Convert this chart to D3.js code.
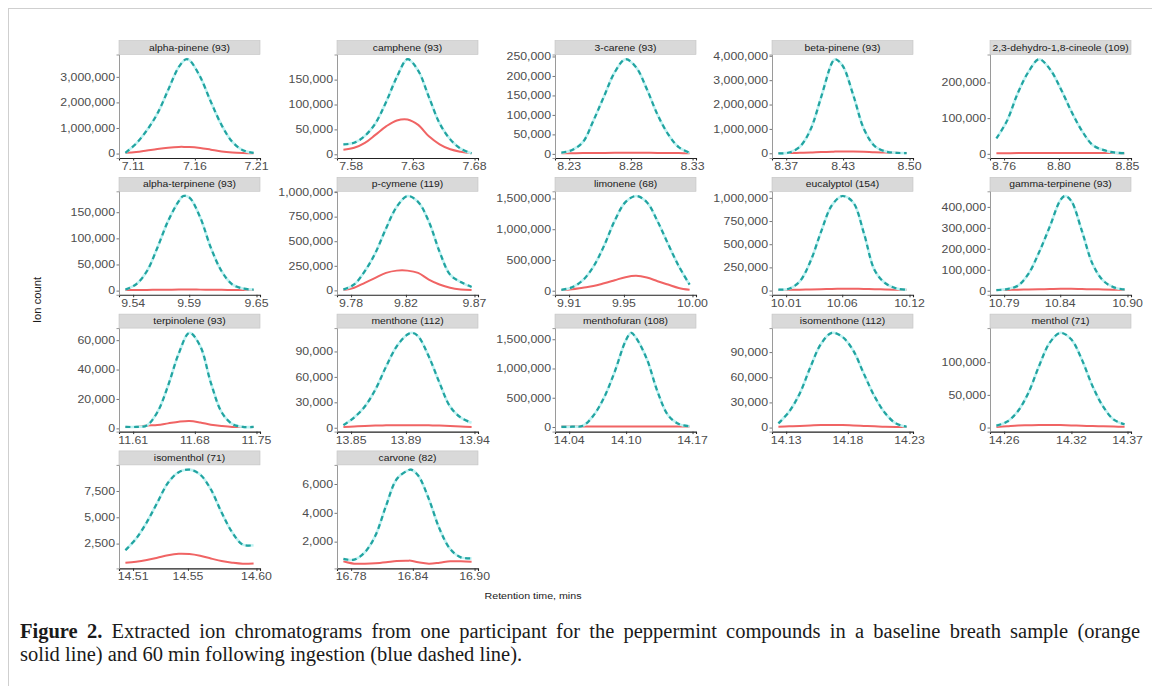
<!DOCTYPE html>
<html><head><meta charset="utf-8">
<script src="https://cdn.jsdelivr.net/npm/d3@7"></script>
<style>body{margin:0;background:#fff}svg{display:block}</style>
</head><body><svg id="c" width="1152" height="686"></svg>
<script>
// ---------- data ----------
const compounds = ["alpha-pinene (93)","camphene (93)","3-carene (93)","beta-pinene (93)","2,3-dehydro-1,8-cineole (109)",
  "alpha-terpinene (93)","p-cymene (119)","limonene (68)","eucalyptol (154)","gamma-terpinene (93)",
  "terpinolene (93)","menthone (112)","menthofuran (108)","isomenthone (112)","menthol (71)",
  "isomenthol (71)","carvone (82)"];
const xTicks = [[7.11,7.16,7.21],[7.58,7.63,7.68],[8.23,8.28,8.33],[8.37,8.43,8.50],[8.76,8.80,8.85],
  [9.54,9.59,9.65],[9.78,9.82,9.87],[9.91,9.95,10.00],[10.01,10.06,10.12],[10.79,10.84,10.90],
  [11.61,11.68,11.75],[13.85,13.89,13.94],[14.04,14.10,14.17],[14.13,14.18,14.23],[14.26,14.32,14.37],
  [14.51,14.55,14.60],[16.78,16.84,16.90]];
const yTicks = [[0,1000000,2000000,3000000],[0,50000,100000,150000],[0,50000,100000,150000,200000,250000],
  [0,1000000,2000000,3000000,4000000],[0,100000,200000],
  [0,50000,100000,150000],[0,250000,500000,750000,1000000],[0,500000,1000000,1500000],
  [0,250000,500000,750000,1000000],[0,100000,200000,300000,400000],
  [0,20000,40000,60000],[0,30000,60000,90000],[0,500000,1000000,1500000],[0,30000,60000,90000],[0,50000,100000],
  [2500,5000,7500],[2000,4000,6000]];
const times = [
  [7.1037,7.1124,7.1211,7.1296,7.1383,7.1470,7.1529,7.1557,7.1643,7.1730,7.1817,7.1903,7.1989,7.2076],
  [7.5737,7.5824,7.5911,7.5996,7.6083,7.6170,7.6257,7.6343,7.6430,7.6517,7.6603,7.6689,7.6776],
  [8.2237,8.2324,8.2411,8.2496,8.2583,8.2670,8.2757,8.2843,8.2930,8.3017,8.3103,8.3189,8.3276],
  [8.3618,8.3731,8.3844,8.3955,8.4068,8.4181,8.4215,8.4294,8.4406,8.4519,8.4632,8.4743,8.4856,8.4969],
  [8.7544,8.7622,8.7700,8.7777,8.7855,8.7933,8.8011,8.8089,8.8167,8.8245,8.8322,8.8400,8.8479],
  [9.5331,9.5426,9.5522,9.5616,9.5711,9.5807,9.5847,9.5902,9.5998,9.6093,9.6189,9.6283,9.6378,9.6474],
  [9.7744,9.7822,9.7900,9.7977,9.8055,9.8133,9.8211,9.8289,9.8367,9.8445,9.8522,9.8600,9.8679],
  [9.9044,9.9122,9.9200,9.9277,9.9355,9.9433,9.9511,9.9589,9.9667,9.9745,9.9822,9.9900,9.9979],
  [10.0031,10.0126,10.0222,10.0316,10.0411,10.0507,10.0602,10.0698,10.0793,10.0889,10.0983,10.1078,10.1174],
  [10.7831,10.7926,10.8022,10.8116,10.8211,10.8307,10.8402,10.8443,10.8498,10.8593,10.8689,10.8783,10.8878,10.8974],
  [11.6012,11.6134,11.6255,11.6375,11.6496,11.6618,11.6739,11.6861,11.6982,11.7104,11.7224,11.7345,11.7467],
  [13.8444,13.8522,13.8600,13.8677,13.8755,13.8833,13.8911,13.8944,13.8989,13.9067,13.9145,13.9222,13.9300,13.9379],
  [14.0318,14.0431,14.0544,14.0655,14.0768,14.0881,14.0994,14.1053,14.1106,14.1219,14.1332,14.1443,14.1556,14.1669],
  [14.1237,14.1324,14.1411,14.1496,14.1583,14.1670,14.1757,14.1843,14.1930,14.2017,14.2103,14.2189,14.2276],
  [14.2531,14.2626,14.2722,14.2816,14.2911,14.3007,14.3102,14.3198,14.3293,14.3389,14.3483,14.3578,14.3674],
  [14.5044,14.5122,14.5200,14.5277,14.5355,14.5433,14.5511,14.5589,14.5667,14.5745,14.5822,14.5900,14.5979],
  [16.7725,16.7829,16.7933,16.8036,16.8140,16.8244,16.8348,16.8381,16.8452,16.8556,16.8660,16.8763,16.8867,16.8971]];
// baseline breath sample (orange solid)
const baseline = [
  [30000,60000,120000,180000,230000,260000,260000,260000,220000,150000,80000,40000,20000,10000],
  [9000,13000,23000,39000,56000,68000,70000,59000,36000,20000,10000,5000,2000],
  [1500,1800,2000,2200,2500,2800,3000,3000,2800,2500,2200,2000,1800],
  [10000,10000,20000,30000,50000,60000,70000,70000,70000,60000,40000,30000,20000,10000],
  [1500,1800,2000,2000,2000,2000,2000,2000,2000,2000,2000,2000,1800],
  [1000,1200,1400,1600,1800,2000,2000,2000,1900,1700,1500,1300,1200,1100],
  [3000,27000,77000,128000,178000,201000,201000,178000,110000,60000,27000,10000,3000],
  [10000,25000,50000,75000,120000,170000,220000,242000,215000,155000,100000,45000,15000],
  [5000,8000,10000,12000,15000,18000,20000,20000,18000,15000,12000,10000,8000],
  [3000,4000,5000,6000,7000,8000,9000,9000,9000,8000,7000,6000,5000,4000],
  [1000,1000,2000,2300,3400,4500,5000,4000,2500,1600,1000,1000,1000],
  [1000,1500,2000,2500,2800,3000,3000,3000,3000,2800,2500,2000,1500,1000],
  [8000,8000,8000,8000,9000,9000,10000,10000,10000,9000,9000,8000,8000,8000],
  [1000,1500,2000,2500,3000,3200,3000,2500,2000,1500,1000,800,800],
  [1000,2000,3000,3500,4000,4000,3800,3300,2800,2200,1800,1500,1300],
  [690,780,940,1160,1400,1530,1500,1340,1090,840,690,590,620],
  [640,470,470,500,570,660,680,680,570,470,540,640,640,610]];
// 60 min following ingestion (blue dashed)
const postIngestion = [
  [30000,390000,910000,1560000,2480000,3390000,3690000,3650000,3000000,2020000,1110000,460000,130000,30000],
  [20000,23000,37000,62000,105000,155000,191000,168000,115000,62000,30000,11000,2000],
  [3000,10000,30000,85000,148000,210000,243000,222000,166000,100000,50000,17000,3000],
  [0,30000,270000,960000,2300000,3700000,3860000,3600000,2400000,1000000,300000,80000,20000,10000],
  [43000,93000,170000,229000,265000,238000,184000,120000,65000,25000,11000,4000,2000],
  [2000,12000,37000,82000,133000,171000,181000,178000,140000,82000,37000,12000,4000,2000],
  [10000,60000,195000,380000,630000,850000,960000,900000,700000,395000,160000,85000,35000],
  [15000,55000,170000,390000,730000,1140000,1440000,1540000,1440000,1130000,760000,400000,100000],
  [10000,20000,100000,313000,633000,918000,1020000,950000,620000,220000,80000,25000,8000],
  [3000,8000,24000,80000,183000,306000,433000,452000,429000,286000,127000,48000,16000,6000],
  [1000,1000,2000,11000,29000,51000,65000,56000,31000,11000,3000,1000,1000],
  [3000,12000,25000,45000,72000,96000,110000,112000,108000,84000,53000,25000,12000,6000],
  [2000,5000,20000,195000,505000,950000,1470000,1610000,1520000,1160000,600000,200000,50000,15000],
  [5000,19000,41000,72000,100000,113000,108000,92000,64000,37000,17000,5000,1000],
  [3000,9000,25000,53000,94000,130000,145000,135000,104000,63000,32000,12000,5000],
  [1875,2970,4530,6400,8280,9280,9530,9060,7660,5470,3590,2400,2340],
  [800,750,1260,2420,4500,6350,6930,7000,6590,4950,2880,1490,910,840]];
const xTitle = "Retention time, mins";
const yTitle = "Ion count";
const captionBold = "Figure 2.";
const captionLine1 = "Extracted ion chromatograms from one participant for the peppermint compounds in a baseline breath sample (orange";
const captionLine2 = "solid line) and 60 min following ingestion (blue dashed line).";

// ---------- layout ----------
const svg = d3.select("#c");
const colLeft = [119, 337, 555, 772, 990];
const panelW = 141, stripH = 14, plotH = 103.5;
const rowTop = [40.5, 177.3, 314.1, 450.9];
const sans = "'Liberation Sans', Arial, sans-serif";
const tickFmtY = d3.format(",");
const tickFmtX = d3.format(".2f");

svg.append("rect").attr("x",8.5).attr("y",8.5).attr("width",1160).attr("height",700)
  .attr("fill","none").attr("stroke","#cfcfcf").attr("stroke-width",1);

function stext(g, x, y, str, size, anchor, sx, color){
  return g.append("text").attr("transform",`translate(${x},${y}) scale(${sx},1)`)
    .attr("text-anchor",anchor).attr("font-family",sans).attr("font-size",size)
    .attr("fill",color).text(str);
}

compounds.forEach((name, i) => {
  const r = Math.floor(i/5), c = i%5;
  const x0 = colLeft[c], top = rowTop[r];
  const py0 = top + stripH, py1 = py0 + plotH;
  const g = svg.append("g");
  const t = times[i], b = baseline[i], p = postIngestion[i];
  const xe = d3.extent(t), xs = (xe[1]-xe[0])*0.05;
  const x = d3.scaleLinear().domain([xe[0]-xs, xe[1]+xs]).range([x0, x0+panelW]);
  const all = b.concat(p);
  const ye = d3.extent(all), ys = (ye[1]-ye[0])*0.05;
  const y = d3.scaleLinear().domain([ye[0]-ys, ye[1]+ys]).range([py1, py0]);

  // strip
  g.append("rect").attr("x",x0).attr("y",top).attr("width",panelW).attr("height",stripH)
    .attr("fill","#d9d9d9").attr("stroke","#c4c4c4").attr("stroke-width",0.6);
  stext(g, x0+panelW/2, top+10, name, 9, "middle", 1.15, "#1a1a1a");

  // axes
  const ax = d3.axisBottom(x).tickValues(xTicks[i]).tickSize(2.5).tickPadding(2).tickFormat(() => "");
  const gx = g.append("g").attr("transform",`translate(0,${py1})`).call(ax);
  gx.select(".domain").attr("stroke","#222").attr("stroke-width",1.1);
  gx.selectAll(".tick line").attr("stroke","#333");
  xTicks[i].forEach(v => stext(g, x(v), py1+12, tickFmtX(v), 11, "middle", 1.12, "#4d4d4d"));

  const ay = d3.axisLeft(y).tickValues(yTicks[i]).tickSize(2.5).tickFormat(() => "");
  const gy = g.append("g").attr("transform",`translate(${x0},0)`).call(ay);
  gy.select(".domain").attr("stroke","#9a9a9a").attr("stroke-width",1);
  gy.selectAll(".tick line").attr("stroke","#777");
  yTicks[i].forEach(v => stext(g, x0-4, y(v)+3.8, tickFmtY(v), 11, "end", 1.12, "#4d4d4d"));

  const line = d3.line().curve(d3.curveCatmullRom.alpha(0.5)).x(d => x(d[0])).y(d => y(d[1]));
  g.append("path").datum(t.map((v,k)=>[v,b[k]])).attr("d",line)
    .attr("fill","none").attr("stroke","#f06464").attr("stroke-width",2);
  const pd = t.map((v,k)=>[v,p[k]]);
  g.append("path").datum(pd).attr("d",line)
    .attr("fill","none").attr("stroke","#bff3f3").attr("stroke-width",2.6);
  g.append("path").datum(pd).attr("d",line)
    .attr("fill","none").attr("stroke","#22a3a0").attr("stroke-width",2.2).attr("stroke-dasharray","5,3.5");
});

// titles
stext(svg, 533, 599, xTitle, 9.5, "middle", 1.12, "#1a1a1a");
svg.append("text").attr("transform","translate(41,300) rotate(-90) scale(1.12,1)")
  .attr("text-anchor","middle").attr("font-family",sans).attr("font-size",10).attr("fill","#1a1a1a").text(yTitle);

// caption (first line justified to the text block width)
const serif = "'Liberation Serif','Times New Roman',serif";
const fs = 20.5, capLeft = 20, capRight = 1140;
const tokens = [{w:"Figure",b:true},{w:"2.",b:true}].concat(captionLine1.split(" ").map(w=>({w,b:false})));
const meas = svg.append("text").attr("font-family",serif).attr("font-size",fs).attr("visibility","hidden");
tokens.forEach(tk => { meas.attr("font-weight", tk.b ? "bold" : "normal").text(tk.w); tk.len = meas.node().getComputedTextLength(); });
meas.remove();
const total = d3.sum(tokens, d => d.len);
const gap = (capRight - capLeft - total) / (tokens.length - 1);
let cx = capLeft;
const cap1 = svg.append("g");
tokens.forEach(tk => {
  cap1.append("text").attr("x",cx).attr("y",638).attr("font-family",serif).attr("font-size",fs)
    .attr("font-weight", tk.b ? "bold" : "normal").attr("fill","#1a1a1a").text(tk.w);
  cx += tk.len + gap;
});
svg.append("text").attr("x",capLeft).attr("y",661).attr("font-family",serif).attr("font-size",fs).attr("fill","#1a1a1a").text(captionLine2);
</script></body></html>
